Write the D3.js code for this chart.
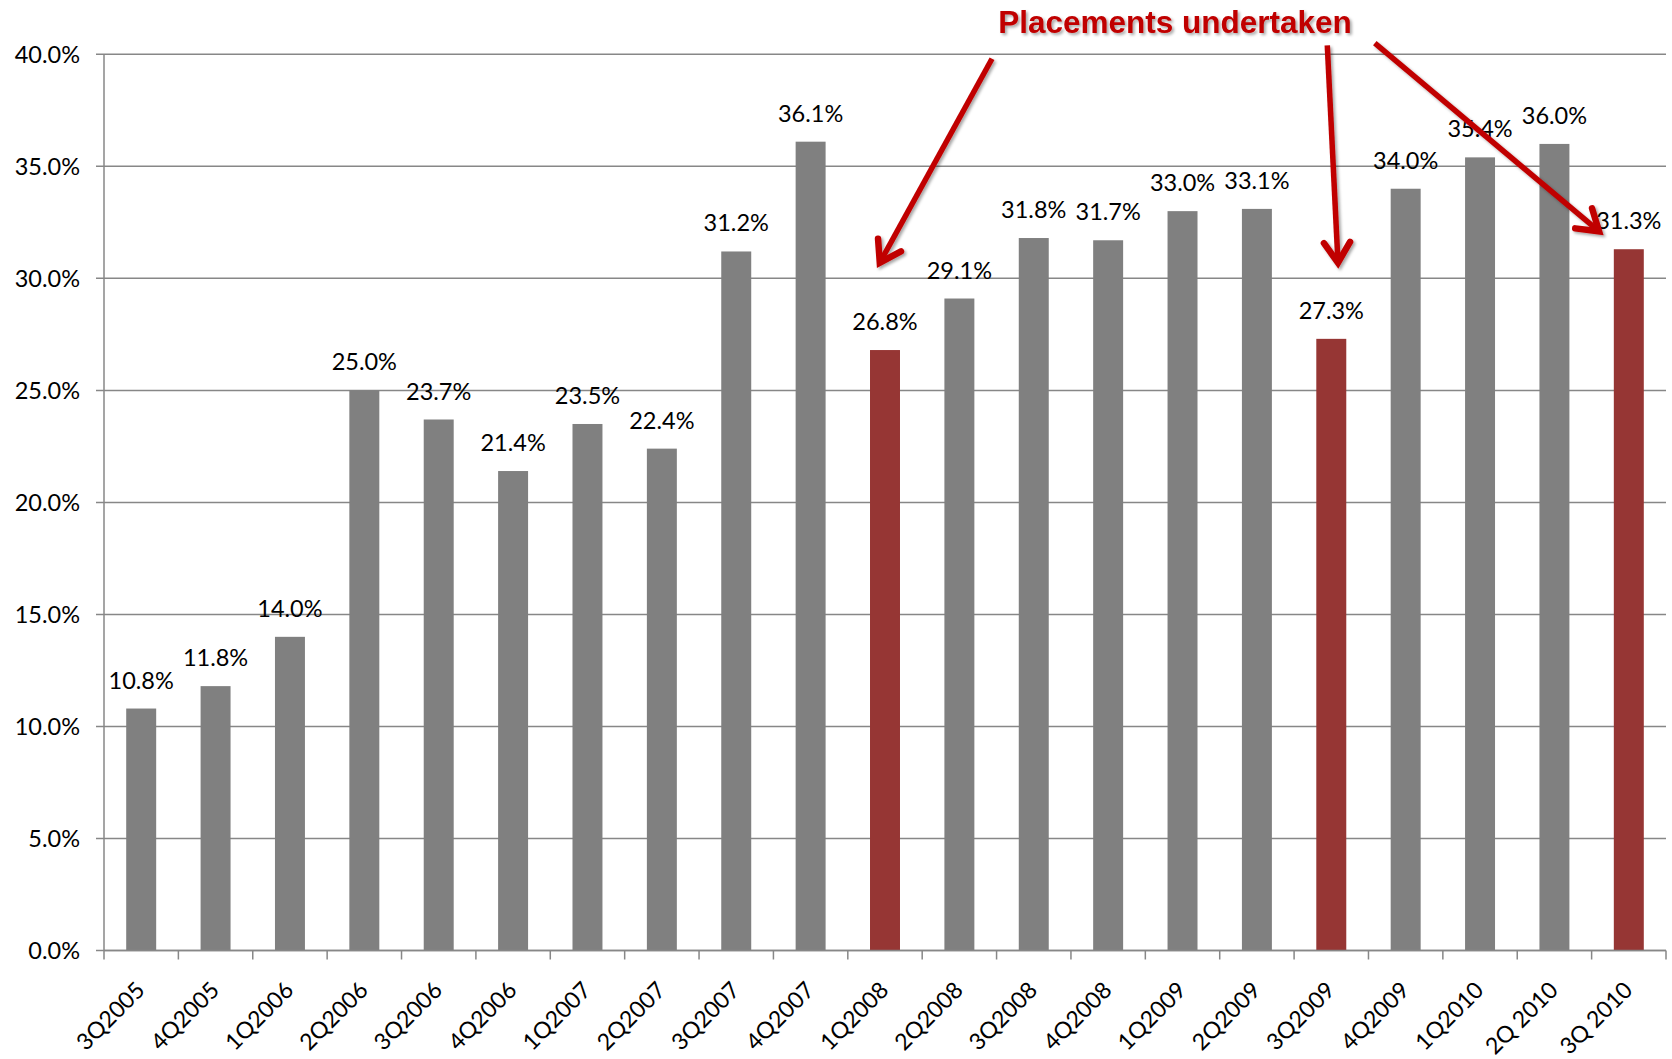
<!DOCTYPE html>
<html>
<head>
<meta charset="utf-8">
<script src="https://cdn.jsdelivr.net/npm/d3@7"></script>
<style>
  html, body { margin: 0; padding: 0; background: #fff; }
  svg { display: block; }
</style>
</head>
<body>
<svg id="chart" width="1672" height="1059"></svg>
<script>
const categories = ["3Q2005","4Q2005","1Q2006","2Q2006","3Q2006","4Q2006","1Q2007","2Q2007","3Q2007","4Q2007","1Q2008","2Q2008","3Q2008","4Q2008","1Q2009","2Q2009","3Q2009","4Q2009","1Q2010","2Q 2010","3Q 2010"];
const values = [10.8, 11.8, 14.0, 25.0, 23.7, 21.4, 23.5, 22.4, 31.2, 36.1, 26.8, 29.1, 31.8, 31.7, 33.0, 33.1, 27.3, 34.0, 35.4, 36.0, 31.3];
const placementCategories = ["1Q2008", "3Q2009", "3Q 2010"];
const yTicks = [0, 5, 10, 15, 20, 25, 30, 35, 40];
const annotationTitle = "Placements undertaken";
// arrows: target category/value (tip), start offset in px from the target band centre, start value
const arrowTargets = [
  { cat: "1Q2008", value: 30.7, dx: -0.07, fromPx: 107, fromValue: 39.8 },
  { cat: "3Q2009", value: 30.7, dx: 0.09, fromPx: -4, fromValue: 40.4 },
  { cat: "3Q 2010", value: 32.1, dx: -0.4, fromPx: -254, fromValue: 40.5 }
];

const svg = d3.select("#chart");
const margin = { left: 104, right: 6, top: 54.3, bottom: 108.5 };
const W = 1672, H = 1059;

const x = d3.scaleBand().domain(categories).range([margin.left, W - margin.right]).padding(0);
const y = d3.scaleLinear().domain([0, 40]).range([H - margin.bottom, margin.top]);
const barW = x.bandwidth() * 0.403;
const gridColor = "#878787";
const fontFam = "Lato, 'Open Sans', sans-serif";

// gridlines
svg.append("g").selectAll("line").data(yTicks).join("line")
  .attr("x1", margin.left - 8).attr("x2", W - margin.right)
  .attr("y1", d => y(d)).attr("y2", d => y(d))
  .attr("stroke", gridColor).attr("stroke-width", 1.5);

// y axis line
svg.append("line")
  .attr("x1", margin.left).attr("x2", margin.left)
  .attr("y1", y(40)).attr("y2", y(0))
  .attr("stroke", gridColor).attr("stroke-width", 1.5);

// y labels
svg.append("g").selectAll("text").data(yTicks).join("text")
  .attr("x", margin.left - 24).attr("y", d => y(d))
  .attr("dy", "0.36em")
  .attr("text-anchor", "end")
  .attr("font-family", fontFam).attr("font-size", 23.5).attr("fill", "#000")
  .text(d => d.toFixed(1) + "%");

// bars
svg.append("g").selectAll("rect").data(categories).join("rect")
  .attr("x", (d) => x(d) + (x.bandwidth() - barW) / 2)
  .attr("width", barW)
  .attr("y", (d, i) => y(values[i]))
  .attr("height", (d, i) => y(0) - y(values[i]))
  .attr("fill", d => placementCategories.includes(d) ? "#963634" : "#808080");

// x axis line & ticks
svg.append("line")
  .attr("x1", margin.left).attr("x2", W - margin.right)
  .attr("y1", y(0)).attr("y2", y(0))
  .attr("stroke", gridColor).attr("stroke-width", 1.5);
const tickPos = categories.map(c => x(c)).concat([x(categories[categories.length - 1]) + x.bandwidth()]);
svg.append("g").selectAll("line").data(tickPos).join("line")
  .attr("x1", d => d).attr("x2", d => d)
  .attr("y1", y(0)).attr("y2", y(0) + 9)
  .attr("stroke", gridColor).attr("stroke-width", 1.5);

// x labels
svg.append("g").selectAll("text").data(categories).join("text")
  .attr("transform", d => `translate(${x(d) + x.bandwidth() / 2 + 5},${y(0) + 41}) rotate(-45)`)
  .attr("text-anchor", "end")
  .attr("font-family", fontFam).attr("font-size", 23).attr("fill", "#000")
  .text(d => d);

// data labels
svg.append("g").selectAll("text").data(categories).join("text")
  .attr("x", d => x(d) + x.bandwidth() / 2)
  .attr("y", (d, i) => y(values[i]) - 20)
  .attr("text-anchor", "middle")
  .attr("font-family", fontFam).attr("font-size", 23.5).attr("fill", "#000")
  .text((d, i) => values[i].toFixed(1) + "%");

// annotation
const defs = svg.append("defs");
const f = defs.append("filter").attr("id", "shadow").attr("x", "-10%").attr("y", "-30%").attr("width", "120%").attr("height", "160%");
f.append("feDropShadow").attr("dx", 2).attr("dy", 2).attr("stdDeviation", 1.5).attr("flood-color", "#000").attr("flood-opacity", 0.35);

svg.append("text")
  .attr("x", 1175).attr("y", 33)
  .attr("text-anchor", "middle")
  .attr("font-family", "'Liberation Sans', Arial, sans-serif")
  .attr("font-weight", "bold").attr("font-size", 31.5)
  .attr("fill", "#C00000")
  .attr("filter", "url(#shadow)")
  .text(annotationTitle);

const arrowG = svg.append("g").attr("filter", "url(#shadow)");
arrowTargets.forEach(a => {
  const cx = x(a.cat) + x.bandwidth() / 2;
  const tx = cx + x.bandwidth() * a.dx;
  const ty = y(a.value);
  const sx = cx + a.fromPx;
  const sy = y(a.fromValue);
  const ang = Math.atan2(ty - sy, tx - sx);
  const L = 24, alpha = 33 * Math.PI / 180;
  const p1 = [tx - L * Math.cos(ang - alpha), ty - L * Math.sin(ang - alpha)];
  const p2 = [tx - L * Math.cos(ang + alpha), ty - L * Math.sin(ang + alpha)];
  arrowG.append("line")
    .attr("x1", sx).attr("y1", sy).attr("x2", tx - 3 * Math.cos(ang)).attr("y2", ty - 3 * Math.sin(ang))
    .attr("stroke", "#C00000").attr("stroke-width", 5.5);
  arrowG.append("path")
    .attr("d", `M${p1[0]},${p1[1]} L${tx},${ty} L${p2[0]},${p2[1]}`)
    .attr("fill", "none").attr("stroke", "#C00000").attr("stroke-width", 6.5)
    .attr("stroke-linejoin", "miter").attr("stroke-linecap", "round");
});
</script>
</body>
</html>
